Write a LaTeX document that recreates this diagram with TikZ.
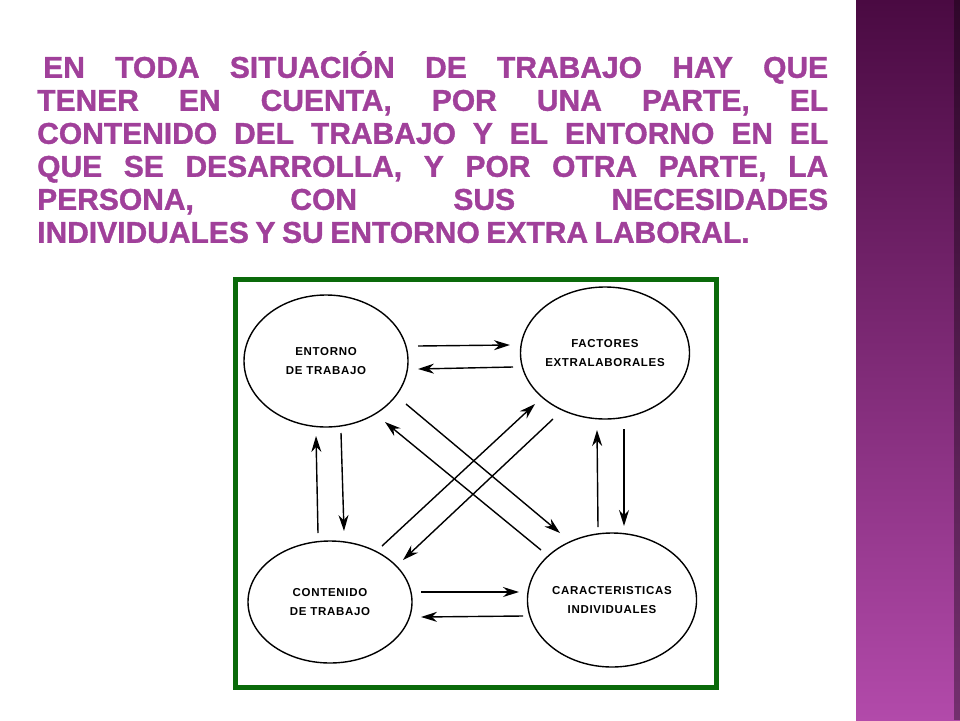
\documentclass[tikz,border=0pt]{standalone}
\usepackage{fontspec}
\setmainfont{Liberation Sans}
\newfontfamily\ttlfont[FakeBold=1.2]{Liberation Sans Bold}
\newfontfamily\lblfont[LetterSpace=6]{Liberation Sans Bold}
\usetikzlibrary{arrows.meta,shapes.geometric}
\definecolor{ttl}{HTML}{A0409A}
\definecolor{frm}{HTML}{0A6A0A}
\definecolor{sbtop}{HTML}{4A0A42}
\definecolor{sbbot}{HTML}{B24AAA}
\tikzset{
  circ/.style={ellipse,draw,line width=1.4pt,inner sep=0pt,minimum width=164pt,align=center,font=\lblfont\fontsize{11.5}{19}\selectfont},
  arr/.style={line width=1.4pt,-{Stealth[length=16pt,width=10pt]}}
}
\begin{document}
\begin{tikzpicture}[x=1pt,y=-1pt]
\useasboundingbox (0,0) rectangle (960,720);
\fill[white] (0,0) rectangle (960,720);
\shade[top color=sbtop,bottom color=sbbot] (856,0) rectangle (960,720);
\fill[black,opacity=0.35] (954,0) rectangle (960,720);
\node[anchor=north west,inner sep=0pt,text=ttl] (title) at (37,51) {\parbox{791pt}{\ttlfont\fontsize{30}{33}\selectfont\hyphenpenalty=10000\exhyphenpenalty=10000\spaceskip=0.22em plus 1em minus 0.05em
\hspace*{6pt}EN TODA SITUACIÓN DE TRABAJO HAY QUE\linebreak
TENER EN CUENTA, POR UNA PARTE, EL\linebreak
CONTENIDO DEL TRABAJO Y EL ENTORNO EN EL\linebreak
QUE SE DESARROLLA, Y POR OTRA PARTE, LA\linebreak
PERSONA, CON SUS NECESIDADES\linebreak
\mbox{INDIVIDUALES Y SU ENTORNO EXTRA LABORAL.}}};
\draw[frm,line width=5pt] (235.5,279.5) rectangle (716.5,687.5);
\node[circ,minimum height=132pt] (e) at (326,361) {ENTORNO\\DE TRABAJO};
\node[circ,minimum height=132pt] (f) at (605,353) {FACTORES\\EXTRALABORALES};
\node[circ,minimum height=122pt] (c) at (330,602) {CONTENIDO\\DE TRABAJO};
\node[circ,minimum height=134pt] (k) at (612,600) {CARACTERISTICAS\\INDIVIDUALES};
\coordinate (a1) at (418,346); \coordinate (a2) at (510,345);
\coordinate (b1) at (513,367); \coordinate (b2) at (418,369);
\coordinate (c1) at (421,592); \coordinate (c2) at (519,592);
\coordinate (d1) at (523,616); \coordinate (d2) at (421,617);
\coordinate (e1) at (341,433); \coordinate (e2) at (344,531);
\coordinate (f1) at (318,533); \coordinate (f2) at (316,436);
\coordinate (g1) at (624,429); \coordinate (g2) at (624,526);
\coordinate (h1) at (598,527); \coordinate (h2) at (597,430);
\coordinate (i1) at (406,404); \coordinate (i2) at (560,533);
\coordinate (j1) at (541,550); \coordinate (j2) at (385,422);
\coordinate (k1) at (382,546); \coordinate (k2) at (535,404);
\coordinate (l1) at (553,419); \coordinate (l2) at (403,560);
\foreach \p in {a,b,c,d,e,f,g,h,i,j,k,l} \draw[arr] (\p1) -- (\p2);
\end{tikzpicture}
\end{document}
